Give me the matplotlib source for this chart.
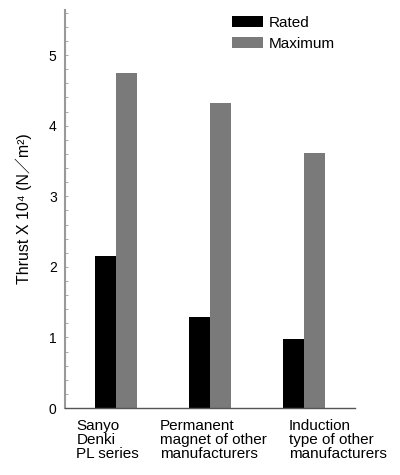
import numpy as np
import matplotlib
matplotlib.use("Agg")
import matplotlib.pyplot as plt
from matplotlib.ticker import MultipleLocator

plt.rcParams['font.family'] = ['Liberation Sans', 'Noto Sans CJK JP', 'DejaVu Sans']

# data
categories = ["Sanyo\nDenki\nPL series",
              "Permanent\nmagnet of other\nmanufacturers",
              "Induction\ntype of other\nmanufacturers"]
rated = [2.15, 1.29, 0.98]
maximum = [4.75, 4.32, 3.62]

fig = plt.figure(figsize=(4.0, 4.75), dpi=100)
ax = fig.add_axes([0.1625, 0.141, 0.725, 0.838])

x = np.arange(len(categories))
w = 0.22
ax.bar(x - w / 2, rated, w, color='black', label='Rated')
ax.bar(x + w / 2, maximum, w, color='#7a7a7a', label='Maximum')

ax.set_xlim(-0.54, 2.54)
ax.set_ylim(0, 5.64)
ax.yaxis.set_major_locator(MultipleLocator(1))
ax.yaxis.set_minor_locator(MultipleLocator(0.2))
ax.tick_params(axis='y', which='both', direction='in', length=2, width=0.6,
               color='#999999', labelsize=10, pad=6)
ax.set_xticks([])

for s in ['top', 'right']:
    ax.spines[s].set_visible(False)
ax.spines['left'].set_color('#999999')
ax.spines['left'].set_linewidth(1.5)
ax.spines['bottom'].set_color('#555555')
ax.spines['bottom'].set_linewidth(1.0)

# category labels under the groups, left aligned (offset from group centre)
label_shift = [-0.42, -0.53, -0.16]
for xi, lab, dx in zip(x, categories, label_shift):
    ax.text(xi + dx, -0.16, lab, ha='left', va='top', fontsize=11,
            linespacing=1.0)

ax.set_ylabel("Thrust X 10⁴ (N／m²)", fontsize=11.5, labelpad=12)

ax.legend(loc='upper left', bbox_to_anchor=(0.555, 1.0), frameon=False,
          fontsize=11, handlelength=2.0, handleheight=0.7, labelspacing=0.45,
          borderaxespad=0.0, handletextpad=0.4)

fig.savefig("out.png", dpi=100)
